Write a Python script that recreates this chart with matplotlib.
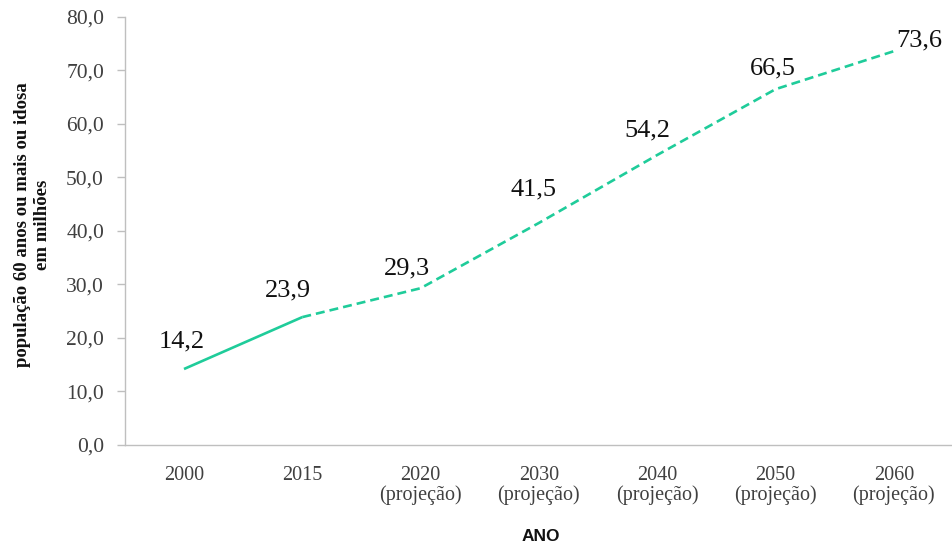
import numpy as np
import matplotlib.pyplot as plt

anos = ["2000", "2015", "2020\n(projeção)", "2030\n(projeção)", "2040\n(projeção)",
        "2050\n(projeção)", "2060\n(projeção)"]
populacao = [14.2, 23.9, 29.3, 41.5, 54.2, 66.5, 73.6]
# deslocamento (px) de cada rótulo em relação ao ponto
rotulo_offset = [(-2, 28), (-14, 27), (-14, 20), (-5, 33), (-10, 25), (-3, 21), (25, 11)]

cor = "#1fcc9a"
cinza = "#bfbfbf"

fig = plt.figure(figsize=(9.53, 5.47), dpi=100)
ax = fig.add_axes([0.131, 0.1865, 0.869, 0.7825])

x = np.arange(len(anos))
# dado observado (linha cheia) e projeção (tracejada)
ax.plot(x[:2], populacao[:2], color=cor, lw=1.9, solid_capstyle="butt")
ax.plot(x[1:], populacao[1:], color=cor, lw=1.9, ls=(0, (3.4, 1.9)))

for xi, v, (dx, dy) in zip(x, populacao, rotulo_offset):
    ax.annotate(f"{v:.1f}".replace(".", ","), (xi, v), xytext=(dx, dy),
                textcoords="offset pixels", ha="center", va="center",
                family="Liberation Serif", fontsize=19, color="#111111")

ax.set_xlim(-0.5, len(anos) - 0.5)
ax.set_ylim(0, 80)
ax.set_xticks(x)
ax.set_xticklabels(anos, family="Liberation Serif", fontsize=14.5, color="#404040",
                   linespacing=1.05)
yt = np.arange(0, 81, 10)
ax.set_yticks(yt)
ax.set_yticklabels([f"{t:.1f}".replace(".", ",") for t in yt],
                   family="Liberation Serif", fontsize=15.5, color="#404040")
ax.tick_params(axis="x", length=0, pad=15)
ax.tick_params(axis="y", length=6, color=cinza, width=1, pad=9)

for s in ["top", "right"]:
    ax.spines[s].set_visible(False)
ax.spines["left"].set_color(cinza)
ax.spines["bottom"].set_color(cinza)
ax.spines["left"].set_linewidth(1)
ax.spines["bottom"].set_linewidth(1)

fig.text(0.034, 0.589, "população 60 anos ou mais ou idosa\nem milhões", rotation=90,
         ha="center", va="center", family="Liberation Serif", fontweight="bold",
         fontsize=13.5, linespacing=1.25, color="#111111")
fig.text(0.567, 0.02, "ANO", ha="center", va="center", family="Liberation Sans",
         fontweight="bold", fontsize=12.5, color="#111111")

fig.savefig("out.png", dpi=100, facecolor="white")
